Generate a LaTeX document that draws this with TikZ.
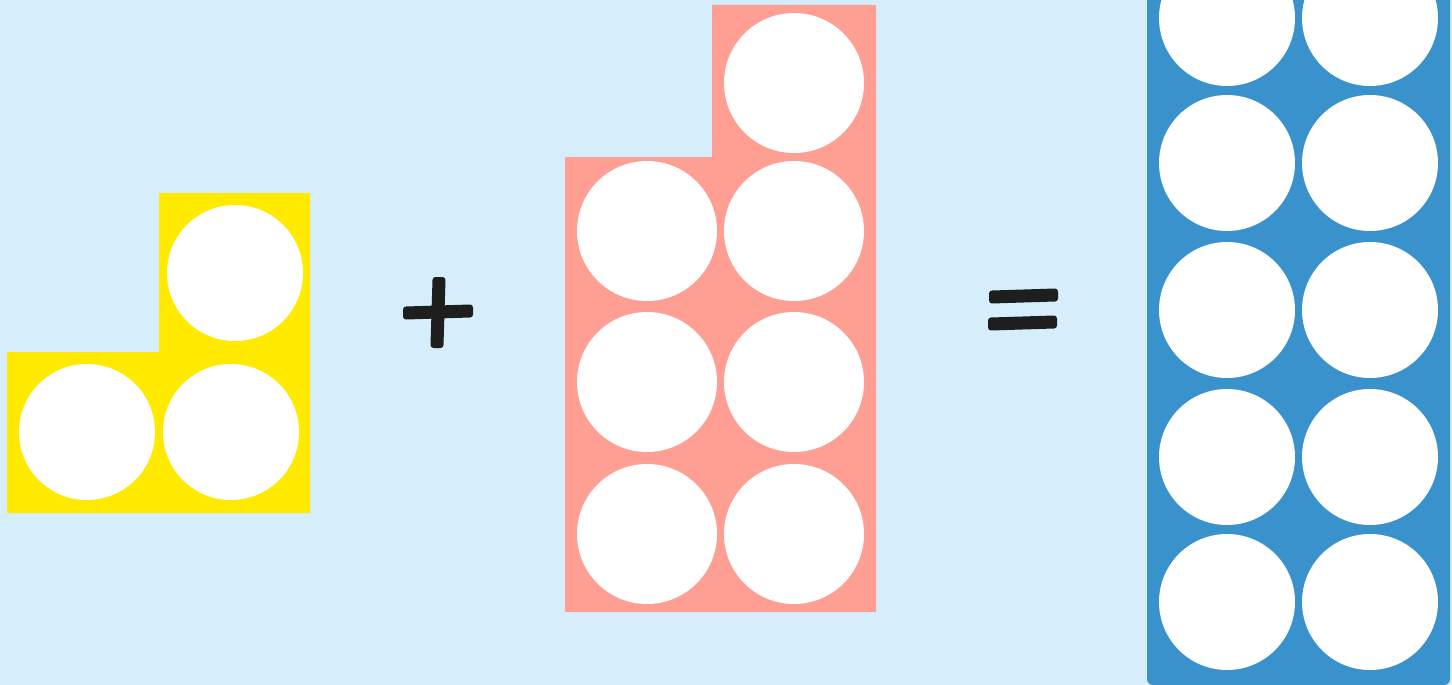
\documentclass[tikz,border=0pt]{standalone}
\definecolor{bgc}{HTML}{D6EDFC}
\definecolor{yel}{HTML}{FFEA00}
\definecolor{pnk}{HTML}{FF9E92}
\definecolor{blu}{HTML}{3A92CD}
\definecolor{ink}{HTML}{1E1E1E}
\begin{document}
\begin{tikzpicture}[x=1pt,y=-1pt,
  dot/.style={fill=white,draw=none},
  sign/.style={draw=ink,line width=6pt,line join=round,line cap=round,fill=ink}]
\useasboundingbox (0,0) rectangle (1452,685);
\fill[bgc] (0,0) rectangle (1452,685);
% yellow L
\fill[yel] (7,352) -- (159,352) -- (159,193) -- (310,193) -- (310,513) -- (7,513) -- cycle;
\fill[dot] (235,273) circle (68);
\fill[dot] (87,432) circle (68);
\fill[dot] (231,432) circle (68);
% plus
\filldraw[sign] (435.5,280) -- (442.5,280) -- (440.5,345) -- (433.5,345) -- cycle;
\filldraw[sign] (406,309.5) -- (470,307.5) -- (470,314.5) -- (406,316.5) -- cycle;
% pink
\fill[pnk] (565,157) -- (712,157) -- (712,5) -- (876,5) -- (876,612) -- (565,612) -- cycle;
\fill[dot] (794,83) circle (70);
\foreach \yy in {231,382,534}{
  \fill[dot] (647,\yy) circle (70);
  \fill[dot] (794,\yy) circle (70);
}
% equals
\filldraw[sign] (992,293.5) -- (1055,291.5) -- (1055,298.5) -- (992,300.5) -- cycle;
\filldraw[sign] (991,320.5) -- (1054,318.5) -- (1054,325.5) -- (991,327.5) -- cycle;
% blue
\fill[blu,rounded corners=6pt] (1147,-20) rectangle (1450,685);
\foreach \yy in {18,163,310,457,602}{
  \fill[dot] (1227,\yy) circle (68);
  \fill[dot] (1370,\yy) circle (68);
}
\end{tikzpicture}
\end{document}
